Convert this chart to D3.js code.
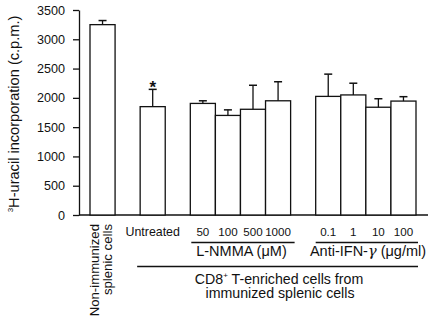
<!DOCTYPE html>
<html><head><meta charset="utf-8">
<script src="https://cdn.jsdelivr.net/npm/d3@7/dist/d3.min.js"></script>
<style>
html,body{margin:0;padding:0;background:#fff;}
svg{display:block;font-family:"Liberation Sans",Arial,Helvetica,sans-serif;}
</style></head>
<body><svg id="c" width="430" height="322"></svg>
<script>
// ---- data ----
const categories = ["Non-immunized splenic cells","Untreated","50","100","500","1000","0.1","1","10","100"];
const groups = ["non","untreated","lnmma","lnmma","lnmma","lnmma","ifn","ifn","ifn","ifn"];
const values = [3250, 1850, 1905, 1700, 1805, 1950, 2025, 2050, 1840, 1945];
const errors = [70, 295, 45, 95, 410, 325, 380, 200, 145, 75];
const significant = [false, true, false, false, false, false, false, false, false, false];
const yTicks = [0, 500, 1000, 1500, 2000, 2500, 3000, 3500];

// ---- layout ----
const svg = d3.select("#c");
const H0 = 215, Htop = 10;
// slot index per bar: one empty slot between groups
const slots = [];
let s = 0;
groups.forEach((g, i) => {
  if (i > 0) { s += 1; if (g !== groups[i-1]) s += 1; }
  slots.push(s);
});
const nSlots = s + 1;

const x = d3.scaleBand().domain(d3.range(nSlots)).range([90, 416]).padding(0);
const bw = x.bandwidth();
const y = d3.scaleLinear().domain([0, 3500]).range([H0, Htop]);

// y axis
const yAxis = d3.axisLeft(y).tickValues(yTicks).tickFormat(d3.format("d"))
  .tickSize(6).tickPadding(8).tickSizeOuter(0);
const gy = svg.append("g").attr("transform", "translate(79,0)").call(yAxis);
gy.select(".domain").attr("stroke", "#111").attr("stroke-width", 1.3);
gy.selectAll(".tick line").attr("stroke", "#111").attr("stroke-width", 1.3);
gy.selectAll(".tick text").attr("font-size", 12.6).attr("fill", "#111")
  .attr("font-family", '"Liberation Sans",Arial,sans-serif');

// x axis baseline
svg.append("line").attr("x1", 79).attr("x2", 428).attr("y1", H0).attr("y2", H0)
  .attr("stroke", "#111").attr("stroke-width", 1.3);

// bars
const bars = svg.append("g");
values.forEach((v, i) => {
  const bx = x(slots[i]);
  bars.append("rect").attr("x", bx).attr("y", y(v)).attr("width", bw).attr("height", H0 - y(v))
    .attr("fill", "#fff").attr("stroke", "#111").attr("stroke-width", 1.3);
  const cx = bx + bw / 2;
  bars.append("line").attr("x1", cx).attr("x2", cx).attr("y1", y(v)).attr("y2", y(v + errors[i]))
    .attr("stroke", "#111").attr("stroke-width", 1.3);
  bars.append("line").attr("x1", cx - 4).attr("x2", cx + 4).attr("y1", y(v + errors[i])).attr("y2", y(v + errors[i]))
    .attr("stroke", "#111").attr("stroke-width", 1.5);
  if (significant[i]) {
    bars.append("text").attr("x", cx).attr("y", y(v + errors[i]) + 4).attr("text-anchor", "middle")
      .attr("font-size", 17).attr("font-weight", "bold").attr("fill", "#111").text("*");
  }
});

// category labels
const lab = svg.append("g").attr("fill", "#111");
categories.forEach((c, i) => {
  const cx = x(slots[i]) + bw / 2;
  if (groups[i] === "non") {
    const parts = ["Non-immunized", "splenic cells"];
    parts.forEach((p, k) => {
      lab.append("text").attr("transform", `translate(${cx - 4 + k * 13},224) rotate(-90)`)
        .attr("text-anchor", "end").attr("font-size", 13.2).text(p);
    });
  } else {
    lab.append("text").attr("x", cx).attr("y", 236).attr("text-anchor", "middle")
      .attr("font-size", groups[i] === "untreated" ? 12.4 : 11.6).text(c);
  }
});

// group brackets
function groupSpan(g) {
  const idx = groups.map((d, i) => d === g ? i : -1).filter(i => i >= 0);
  return [x(slots[idx[0]]), x(slots[idx[idx.length - 1]]) + bw];
}
const lm = groupSpan("lnmma"), ifn = groupSpan("ifn"), un = groupSpan("untreated");
const lines = [[lm[0] + 1, lm[1] + 4, 242.5], [ifn[0], ifn[1] + 2, 242.5], [un[0] - 3, ifn[1] + 2, 266.5]];
lines.forEach(l => svg.append("line").attr("x1", l[0]).attr("x2", l[1]).attr("y1", l[2]).attr("y2", l[2])
  .attr("stroke", "#111").attr("stroke-width", 1.4));

const t1 = lab.append("text").attr("x", (lm[0] + lm[1]) / 2 + 1).attr("y", 256).attr("text-anchor", "middle").attr("font-size", 14.5);
t1.append("tspan").text("L-NMMA (μM)");
const t2 = lab.append("text").attr("x", 368).attr("y", 256).attr("text-anchor", "middle").attr("font-size", 14.5);
t2.append("tspan").text("Anti-IFN-");
t2.append("tspan").attr("font-family", '"DejaVu Serif",serif').attr("font-style", "italic").text("γ");
t2.append("tspan").text(" (μg/ml)");

const t3 = lab.append("text").attr("x", 279).attr("y", 284).attr("text-anchor", "middle").attr("font-size", 14.2);
t3.append("tspan").text("CD8");
t3.append("tspan").attr("font-size", 8).attr("dy", -6).text("+");
t3.append("tspan").attr("dy", 6).text(" T-enriched cells from");
lab.append("text").attr("x", 280).attr("y", 298).attr("text-anchor", "middle").attr("font-size", 14.2)
  .text("immunized splenic cells");

// y label
const yl = lab.append("text").attr("transform", "translate(19,114) rotate(-90)").attr("text-anchor", "middle").attr("font-size", 14.6);
yl.append("tspan").attr("font-size", 8).attr("dy", -6).text("3");
yl.append("tspan").attr("dy", 6).text("H-uracil incorporation (c.p.m.)");
</script></body></html>
